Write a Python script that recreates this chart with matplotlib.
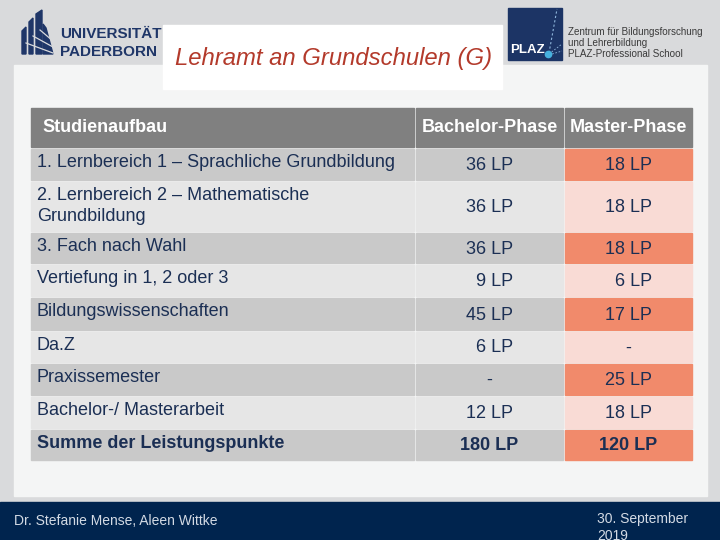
import matplotlib
matplotlib.use("Agg")
import matplotlib.pyplot as plt
from matplotlib.patches import Rectangle, Polygon

plt.rcParams['font.family'] = ['Liberation Sans', 'DejaVu Sans']

# table content
header = ["Studienaufbau", "Bachelor-Phase", "Master-Phase"]
subjects = [
    "1. Lernbereich 1 \u2013 Sprachliche Grundbildung",
    "2. Lernbereich 2 \u2013 Mathematische\nGrundbildung",
    "3. Fach nach Wahl",
    "Vertiefung in 1, 2 oder 3",
    "Bildungswissenschaften",
    "Da.Z",
    "Praxissemester",
    "Bachelor-/ Masterarbeit",
    "Summe der Leistungspunkte",
]
bachelor = ["36 LP", "36 LP", "36 LP", "  9 LP", "45 LP", "  6 LP", "-", "12 LP", "180 LP"]
master = ["18 LP", "18 LP", "18 LP", "  6 LP", "17 LP", "-", "25 LP", "18 LP", "120 LP"]

# layout (pixels, figure is 720x540)
row_tops = [108, 149, 182, 233, 265, 298, 332, 364, 397, 430]
table_bottom = 460
col_edges = [(31, 414), (416, 563), (565, 692)]

navy = "#1b2f54"
bg = "#d9dadc"
panel = "#f4f5f5"
head_col = "#808080"
grey_dark, grey_light = "#c9c9c9", "#e6e6e6"
red_dark, red_light = "#f18a6b", "#f9dbd5"

fig = plt.figure(figsize=(7.2, 5.4), dpi=100, facecolor=bg)
ax = fig.add_axes([0, 0, 1, 1])
ax.set_xlim(0, 720)
ax.set_ylim(540, 0)
ax.axis("off")

# content panel and footer
ax.add_patch(Rectangle((14, 65), 693, 431, color=panel, zorder=0))
ax.add_patch(Rectangle((0, 502), 720, 38, color="#00244e", zorder=0))
ax.text(14, 521, "Dr. Stefanie Mense, Aleen Wittke", color="#d3dae4",
        fontsize=10, va="center", ha="left")
ax.text(597, 512, "30. September\n2019", color="#d3dae4", fontsize=10,
        va="top", ha="left", linespacing=1.3)

# title box
ax.add_patch(Rectangle((163, 25), 339, 64, color="white", zorder=1))
ax.text(175, 58, "Lehramt an Grundschulen (G)", color="#b33a2b",
        fontsize=17.2, style="italic", va="center", ha="left", zorder=2)

# university logo
logo_blue = "#1f3668"
shapes = [
    [(22, 31), (26, 27), (26, 54), (22, 54)],
    [(29, 22), (33, 18), (33, 54), (29, 54)],
    [(36, 14), (42, 10), (42, 54), (36, 54)],
    [(43, 24), (46, 28), (53, 54), (43, 54)],
]
for s in shapes:
    ax.add_patch(Polygon(s, closed=True, color=logo_blue, zorder=2))
for x0, y0, x1, y1 in [(26, 43, 53, 53), (33, 36, 53, 47), (40, 30, 53, 41)]:
    ax.plot([x0, x1], [y0, y1], color=bg, lw=0.9, zorder=3)
ax.text(60, 34, "UNIVERSIT\u00c4T", color=logo_blue, fontsize=11,
        fontweight="bold", va="center", ha="left")
ax.text(60, 52, "PADERBORN", color=logo_blue, fontsize=11,
        fontweight="bold", va="center", ha="left")

# PLAZ logo
ax.add_patch(Rectangle((508, 8), 54, 52, color="#1c3465", zorder=2))
ax.plot([549, 557], [53, 9], color="#8fb6dc", lw=0.8, ls=(0, (2, 2)), zorder=3)
ax.plot([549, 562], [54, 44], color="#8fb6dc", lw=0.6, ls=(0, (2, 2)), zorder=3)
ax.plot([549, 562], [55, 51], color="#8fb6dc", lw=0.6, ls=(0, (2, 2)), zorder=3)
ax.plot([548], [54], "o", color="#46b1de", ms=4.5, zorder=4)
ax.text(510, 50, "PLAZ", color="white", fontsize=9.5, fontweight="bold",
        va="center", ha="left", zorder=4)
plaz_lines = ["Zentrum f\u00fcr Bildungsforschung", "und Lehrerbildung",
              "PLAZ-Professional School"]
for i, line in enumerate(plaz_lines):
    ax.text(568, 32 + 11 * i, line, color="#3a3a3a", fontsize=7.1,
            va="center", ha="left")

# table
bottoms = [t - 2 for t in row_tops[1:]] + [table_bottom]
for r, (top, bot) in enumerate(zip(row_tops, bottoms)):
    h = bot - top
    if r == 0:
        colors = [head_col] * 3
    elif r % 2 == 1:
        colors = [grey_dark, grey_dark, red_dark]
    else:
        colors = [grey_light, grey_light, red_light]
    for (x0, x1), c in zip(col_edges, colors):
        ax.add_patch(Rectangle((x0, top), x1 - x0, h, color=c, zorder=1))

    mid = (top + bot) / 2
    if r == 0:
        ax.text(42, mid, header[0], color="white", fontsize=13,
                fontweight="bold", va="center", ha="left")
        for (x0, x1), lab in zip(col_edges[1:], header[1:]):
            ax.text((x0 + x1) / 2, mid, lab, color="white", fontsize=13,
                    fontweight="bold", va="center", ha="center")
        continue
    i = r - 1
    weight = "bold" if i == len(subjects) - 1 else "normal"
    ax.text(37, top + 5, subjects[i], color=navy, fontsize=13,
            fontweight=weight, va="top", ha="left", linespacing=1.3)
    for (x0, x1), val in zip(col_edges[1:], [bachelor[i], master[i]]):
        ax.text((x0 + x1) / 2, mid + 1, val, color=navy, fontsize=13,
                fontweight=weight, va="center", ha="center")

fig.savefig("out.png", dpi=100, facecolor=bg)
